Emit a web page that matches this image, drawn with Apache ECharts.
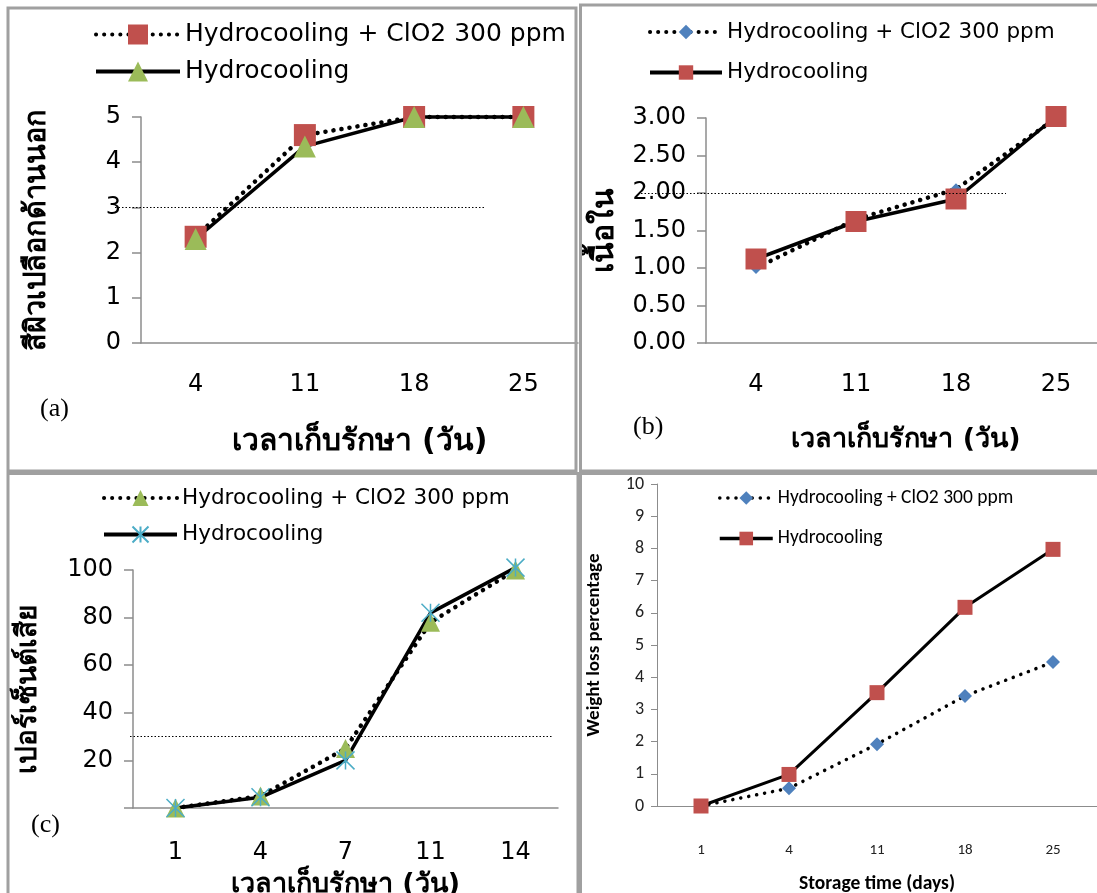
<!DOCTYPE html>
<html>
<head>
<meta charset="utf-8">
<title>Hydrocooling charts</title>
<script src="https://cdn.jsdelivr.net/npm/echarts@6/dist/echarts.min.js"></script>
<style>
    html, body { margin: 0; padding: 0; background: #fff; }
    .panel { position: absolute; }
</style>
</head>
<body>
<div id="chartA" class="panel" style="left:0; top:0; width:579px; height:472px;"></div>
<div id="chartB" class="panel" style="left:579px; top:0; width:518px; height:472px;"></div>
<div id="chartC" class="panel" style="left:0; top:472px; width:579px; height:421px;"></div>
<div id="chartD" class="panel" style="left:579px; top:472px; width:518px; height:421px;"></div>
<script>
// ---- data ----
const nameClo2 = 'Hydrocooling + ClO2 300 ppm';
const nameHydro = 'Hydrocooling';

// (a) outer peel colour score
const daysA = ['4', '11', '18', '25'];
const peelClo2 = [2.35, 4.6, 5, 5];
const peelHydro = [2.3, 4.35, 5, 5];
const peelRef = 3;

// (b) flesh score
const daysB = ['4', '11', '18', '25'];
const fleshClo2 = [1.0, 1.65, 2.05, 3.0];
const fleshHydro = [1.12, 1.62, 1.92, 3.02];
const fleshRef = 2;

// (c) percent spoiled
const daysC = ['1', '4', '7', '11', '14'];
const spoilClo2 = [0, 5, 25, 78, 100];
const spoilHydro = [0, 4.5, 20, 82, 101];
const spoilRef = 30;

// (d) weight loss percentage
const daysD = ['1', '4', '11', '18', '25'];
const lossClo2 = [0, 0.55, 1.92, 3.42, 4.47];
const lossHydro = [0, 0.98, 3.52, 6.17, 7.97];

const RED = '#C0504D', GREEN = '#9BBB59', BLUE = '#4F81BD', CYAN = '#4BACC6';
const AXIS = '#8c8c8c';
const TAHOMA = 'Tahoma, "DejaVu Sans", "Noto Sans", sans-serif';
const CALIBRI = 'Calibri, Carlito, Lato, "Open Sans", sans-serif';
const STAR = 'path://M0,0L20,20M20,0L0,20M10,0L10,20';
const THAI_X = 'เวลาเก็บรักษา (วัน)';

const dotted = (w, gap) => ({ color: '#000', width: w, type: [0.1, gap], cap: 'round' });
const solid = (w) => ({ color: '#000', width: w, type: 'solid' });

function frame(x, y, w, h) {
    return { type: 'rect', z: 100, silent: true, shape: { x: x, y: y, width: w, height: h },
        style: { fill: 'none', stroke: '#a0a0a0', lineWidth: 3 } };
}

function tag(text, x, y) {
    return { type: 'text', z: 100, left: x, top: y, silent: true,
        style: { text: text, font: '26px "Liberation Serif", "Times New Roman", serif', fill: '#000' } };
}

function refLine(value, x1, x2) {
    return {
        silent: true, symbol: 'none', label: { show: false },
        lineStyle: { color: '#000', width: 1.2, type: [1.5, 2] },
        emphasis: { disabled: true },
        data: [[{ x: x1, yAxis: value }, { x: x2, yAxis: value }]]
    };
}

// common axis styling for the three Thai panels
function catAxis(days, gap, margin, nameSize) {
    return {
        type: 'category', data: days, boundaryGap: true,
        axisLine: { lineStyle: { color: AXIS, width: 1.5 } },
        axisTick: { inside: true, length: 9, interval: 0, lineStyle: { color: AXIS, width: 1.5 } },
        axisLabel: { color: '#000', fontSize: 24, fontFamily: TAHOMA, margin: margin },
        name: THAI_X, nameLocation: 'middle', nameGap: gap,
        nameTextStyle: { color: '#000', fontSize: nameSize, fontWeight: 'bold', fontFamily: TAHOMA }
    };
}

function valAxis(min, max, step, name, gap, nameSize, labelFn) {
    return {
        type: 'value', min: min, max: max, interval: step,
        splitLine: { show: false },
        axisLine: { show: true, lineStyle: { color: AXIS, width: 1.5 } },
        axisTick: { show: true, length: 9, lineStyle: { color: AXIS, width: 1.5 } },
        axisLabel: { color: '#000', fontSize: 24, fontFamily: TAHOMA, margin: 20, formatter: labelFn },
        name: name, nameLocation: 'middle', nameGap: gap, nameRotate: 90,
        nameTextStyle: { color: '#000', fontSize: nameSize, fontWeight: 'bold', fontFamily: TAHOMA }
    };
}

function legend(left, top, w, h, gap, size, font, lineW) {
    return {
        orient: 'vertical', left: left, top: top, padding: 0,
        itemWidth: w, itemHeight: h, itemGap: gap,
        selectedMode: false, data: [nameClo2, nameHydro],
        lineStyle: { width: lineW },
        textStyle: { color: '#000', fontSize: size, fontFamily: font }
    };
}

// ---- (a) ----
echarts.init(document.getElementById('chartA')).setOption({
    animation: false,
    grid: { left: 141, top: 117, width: 437, height: 226, outerBoundsMode: 'none' },
    legend: legend(94, 22, 84, 25, 12, 25, TAHOMA, 4),
    xAxis: catAxis(daysA, 84, 30, 30),
    yAxis: valAxis(0, 5, 1, 'สีผิวเปลือกด้านนอก', 89, 29),
    series: [
        { name: nameClo2, type: 'line', data: peelClo2, clip: false,
          symbol: 'rect', symbolSize: 22, itemStyle: { color: RED }, lineStyle: dotted(4.5, 8),
          markLine: refLine(peelRef, 115, 485) },
        { name: nameHydro, type: 'line', data: peelHydro, clip: false,
          symbol: 'triangle', symbolSize: 22, itemStyle: { color: GREEN }, lineStyle: solid(3.5) }
    ],
    graphic: [frame(8, 8, 568, 463), tag('(a)', 40, 396)]
});

// ---- (b) ----
echarts.init(document.getElementById('chartB')).setOption({
    animation: false,
    grid: { left: 127, top: 118, width: 400, height: 225, outerBoundsMode: 'none' },
    legend: legend(69, 21, 72, 18, 18.5, 21.5, TAHOMA, 4),
    xAxis: catAxis(daysB, 83, 30, 27),
    yAxis: valAxis(0, 3, 0.5, 'เนื้อใน', 86, 30, v => v.toFixed(2)),
    series: [
        { name: nameClo2, type: 'line', data: fleshClo2, clip: false,
          symbol: 'diamond', symbolSize: 12, itemStyle: { color: BLUE }, lineStyle: dotted(4.5, 8),
          markLine: refLine(fleshRef, 62, 427) },
        { name: nameHydro, type: 'line', data: fleshHydro, clip: false,
          symbol: 'rect', symbolSize: 21, itemStyle: { color: RED }, lineStyle: solid(3.5) }
    ],
    graphic: [frame(1.5, 5, 600, 466), tag('(b)', 54, 414)]
});

// ---- (c) ----
echarts.init(document.getElementById('chartC')).setOption({
    animation: false,
    grid: { left: 133, top: 98, width: 425, height: 238, outerBoundsMode: 'none' },
    legend: legend(102, 15, 73, 20, 14.5, 21.5, TAHOMA, 4),
    xAxis: catAxis(daysC, 63, 33, 27),
    yAxis: valAxis(0, 100, 20, 'เปอร์เซ็นต์เสีย', 90, 28, v => (v === 0 ? '' : String(v))),
    series: [
        { name: nameClo2, type: 'line', data: spoilClo2, clip: false,
          symbol: 'triangle', symbolSize: 19, itemStyle: { color: GREEN }, lineStyle: dotted(4.5, 8),
          markLine: refLine(spoilRef, 130, 552) },
        { name: nameHydro, type: 'line', data: spoilHydro, clip: false,
          symbol: STAR, symbolSize: 18,
          itemStyle: { color: CYAN, borderColor: CYAN, borderWidth: 1.5 }, lineStyle: solid(3.5) }
    ],
    graphic: [frame(8, 1.5, 570, 500), tag('(c)', 31, 340)]
});

// ---- (d) ----
echarts.init(document.getElementById('chartD')).setOption({
    animation: false,
    grid: { left: 78, top: 12, width: 440, height: 322, outerBoundsMode: 'none' },
    legend: legend(139, 16, 53, 17, 20.5, 19.5, CALIBRI, 3.5),
    xAxis: {
        type: 'category', data: daysD, boundaryGap: true,
        axisLine: { lineStyle: { color: AXIS, width: 1 } },
        axisTick: { inside: true, length: 6, interval: 0, lineStyle: { color: AXIS } },
        axisLabel: { color: '#222', fontSize: 15, fontFamily: CALIBRI, margin: 37 },
        name: 'Storage time (days)', nameLocation: 'middle', nameGap: 68,
        nameTextStyle: { color: '#000', fontSize: 19.5, fontWeight: 'bold', fontFamily: CALIBRI }
    },
    yAxis: {
        type: 'value', min: 0, max: 10, interval: 1,
        splitLine: { show: false },
        axisLine: { show: true, lineStyle: { color: AXIS, width: 1 } },
        axisTick: { show: true, length: 6, lineStyle: { color: AXIS } },
        axisLabel: { color: '#222', fontSize: 18, fontFamily: CALIBRI, margin: 13 },
        name: 'Weight loss percentage', nameLocation: 'middle', nameGap: 53, nameRotate: 90,
        nameTextStyle: { color: '#000', fontSize: 19, fontWeight: 'bold', fontFamily: CALIBRI }
    },
    series: [
        { name: nameClo2, type: 'line', data: lossClo2, clip: false,
          symbol: 'diamond', symbolSize: 14, itemStyle: { color: BLUE }, lineStyle: dotted(3.5, 8) },
        { name: nameHydro, type: 'line', data: lossHydro, clip: false,
          symbol: 'rect', symbolSize: 15, itemStyle: { color: RED }, lineStyle: solid(3) }
    ],
    graphic: [frame(1.5, 1.5, 600, 500)]
});
</script>
</body>
</html>
